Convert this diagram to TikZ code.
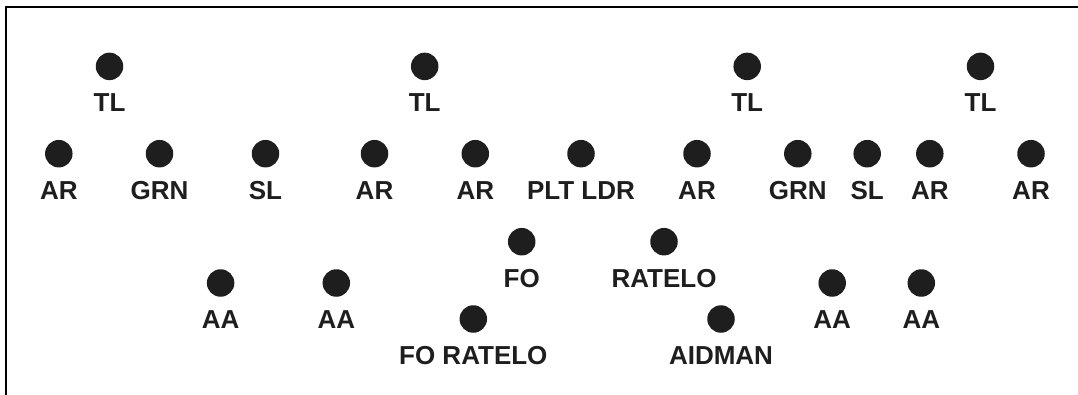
\documentclass[tikz,border=0pt]{standalone}
\usepackage{fontspec}
\setmainfont{Liberation Sans}
\definecolor{ink}{HTML}{1E1E1E}
\tikzset{
  dotnode/.style={circle, fill=ink, draw=none, minimum size=27.5pt, inner sep=0pt},
  labnode/.style={anchor=base, inner sep=0pt, text=ink, font=\fontsize{26}{30}\selectfont\bfseries},
  frameline/.style={draw=black, line width=2.4pt}
}
\newcommand\placeperson[4]{%
  \node[dotnode] (d#1) at (#2,#3) {};
  \node[labnode] (l#1) at ($(d#1)+(0,45.5)$) {#4};
}
\usetikzlibrary{calc}
\begin{document}
\begin{tikzpicture}[x=1pt,y=-1pt]
\useasboundingbox (0,0) rectangle (1078,395);
\coordinate (fbl) at (6.2,395);
\coordinate (ftl) at (6.2,7.2);
\coordinate (ftr) at (1078,7.2);
\draw[frameline] (fbl) -- (ftl) -- (ftr);
% team leaders
\placeperson{tla}{109.5}{66.4}{TL}
\placeperson{tlb}{424.7}{66.4}{TL}
\placeperson{tlc}{747.2}{66.4}{TL}
\placeperson{tld}{980.5}{66.4}{TL}
% second row
\placeperson{ara}{58.8}{153.7}{AR}
\placeperson{grna}{159.5}{153.7}{GRN}
\placeperson{sla}{265.5}{153.7}{SL}
\placeperson{arb}{374.5}{153.7}{AR}
\placeperson{arc}{475.3}{153.7}{AR}
\placeperson{plt}{581}{153.7}{PLT LDR}
\placeperson{ard}{697}{153.7}{AR}
\placeperson{grnb}{797.8}{153.7}{GRN}
\placeperson{slb}{867.2}{153.7}{SL}
\placeperson{are}{929.8}{153.7}{AR}
\placeperson{arf}{1031}{153.7}{AR}
% third rows
\placeperson{fo}{521.7}{241.7}{FO}
\placeperson{rto}{664}{241.7}{RATELO}
\placeperson{aaa}{220.6}{283}{AA}
\placeperson{aab}{336.3}{283}{AA}
\placeperson{aac}{832.2}{283}{AA}
\placeperson{aad}{921.3}{283}{AA}
\placeperson{forto}{473.3}{319}{FO RATELO}
\placeperson{aid}{721}{319}{AIDMAN}
\end{tikzpicture}
\end{document}
